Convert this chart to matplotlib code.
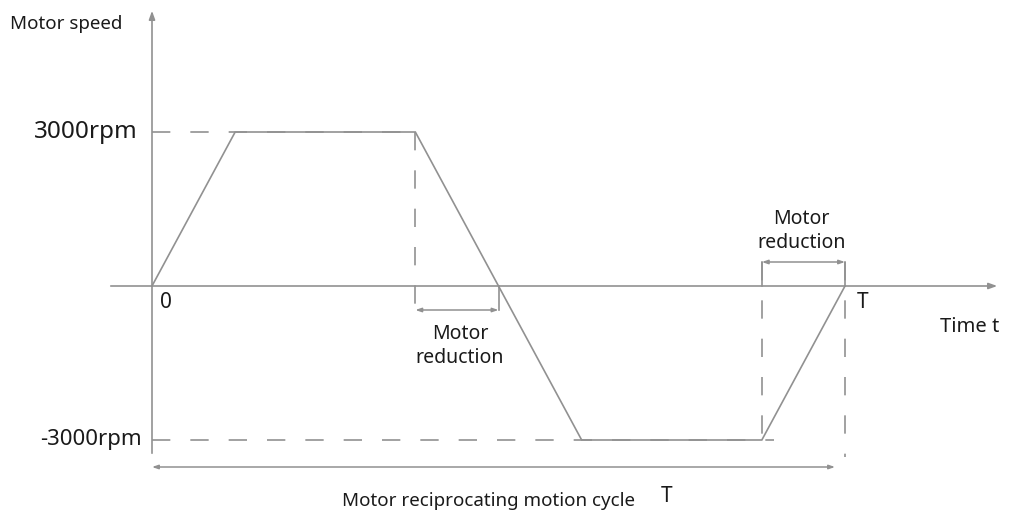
import matplotlib
matplotlib.use("Agg")
import matplotlib.pyplot as plt

# ---- data ----
times = [0.0, 0.12, 0.38, 0.5, 0.62, 0.88, 1.0]          # in units of cycle T
speeds = [0, 3000, 3000, 0, -3000, -3000, 0]               # rpm
level_labels = ["3000rpm", "-3000rpm"]
levels = [3000, -3000]
reduction_spans = [(0.38, 0.5), (0.88, 1.0)]

plt.rcParams['font.family'] = ['Noto Sans', 'DejaVu Sans']

fig = plt.figure(figsize=(10.11, 5.17), dpi=100)
ax = fig.add_axes([0, 0, 1, 1])
ax.set_axis_off()

# pixel-based mapping for limits: t=0 at x=152, t=1 at x=845; y: 0 rpm at 286px, 154px per 3000
px_per_t = 693.0
x0 = 152.0
ax.set_xlim((0 - x0) / px_per_t, (1011 - x0) / px_per_t)
sy = 3000 / 154.0
ax.set_ylim((286 - 517) * sy, 286 * sy)

def dx(px):
    return px / px_per_t
def dy(px):
    return px * sy

gray = '#919191'
txt = '#1a1a1a'

# axes arrows
ax.annotate('', xy=(0, 286 * sy - dy(8)), xytext=(0, -dy(170)),
            arrowprops=dict(arrowstyle='-|>,head_length=0.5,head_width=0.18', color=gray, lw=1.2))
ax.annotate('', xy=(dx(1000 - x0), 0), xytext=(dx(108 - x0), 0),
            arrowprops=dict(arrowstyle='-|>,head_length=0.5,head_width=0.18', color=gray, lw=1.2))

# profile
ax.plot(times, speeds, color=gray, lw=1.2, solid_joinstyle='miter')

# dashed guides
dash = dict(color=gray, lw=1.2, dashes=(11, 12))
ax.plot([0, times[2]], [levels[0], levels[0]], **dash)
ax.plot([0, times[5] + dx(12)], [levels[1], levels[1]], **dash)
ax.plot([times[2], times[2]], [levels[0], -dy(24)], **dash)
ax.plot([times[5], times[5]], [dy(24), levels[1]], **dash)
ax.plot([times[6], times[6]], [dy(24), levels[1] - dy(17)], **dash)

# reduction brackets
a_style = dict(arrowstyle='<|-|>,head_length=0.35,head_width=0.12', color=gray, lw=1.1,
               shrinkA=0, shrinkB=0)
(s1, e1), (s2, e2) = reduction_spans
ax.plot([e1, e1], [0, -dy(24)], color=gray, lw=1.2)
ax.annotate('', xy=(s1, -dy(24)), xytext=(e1, -dy(24)), arrowprops=a_style)
ax.plot([s2, s2], [0, dy(24)], color=gray, lw=1.2)
ax.plot([e2, e2], [0, dy(24)], color=gray, lw=1.2)
ax.annotate('', xy=(s2, dy(24)), xytext=(e2, dy(24)), arrowprops=a_style)

# cycle arrow
ax.annotate('', xy=(0, -dy(181)), xytext=(dx(835 - x0), -dy(181)), arrowprops=a_style)

# texts
ax.text(dx(10 - x0), dy(286 - 24), 'Motor speed', fontsize=13.5, color=txt, ha='left', va='center')
ax.text(dx(138 - x0), levels[0], level_labels[0], fontsize=17.5, color=txt, ha='right', va='center')
ax.text(dx(142 - x0), levels[1], level_labels[1], fontsize=16, color=txt, ha='right', va='center')
ax.text(dx(166 - x0), -dy(302 - 286), '0', fontsize=15, color=txt, ha='center', va='center')
ax.text((s1 + e1) / 2 + dx(3), -dy(346 - 286), 'Motor\nreduction', fontsize=14, color=txt,
        ha='center', va='center', linespacing=1.3)
ax.text((s2 + e2) / 2 - dx(2), dy(286 - 231), 'Motor\nreduction', fontsize=14, color=txt,
        ha='center', va='center', linespacing=1.3)
ax.text(dx(863 - x0), -dy(302 - 286), 'T', fontsize=15, color=txt, ha='center', va='center')
ax.text(dx(970 - x0), -dy(327 - 286), 'Time t', fontsize=14.5, color=txt, ha='center', va='center')
ax.text(dx(488 - x0), -dy(501 - 286), 'Motor reciprocating motion cycle', fontsize=13.5, color=txt,
        ha='center', va='center')
ax.text(dx(667 - x0), -dy(497 - 286), 'T', fontsize=15, color=txt, ha='center', va='center')

fig.savefig('out.png', dpi=100, facecolor='white')
